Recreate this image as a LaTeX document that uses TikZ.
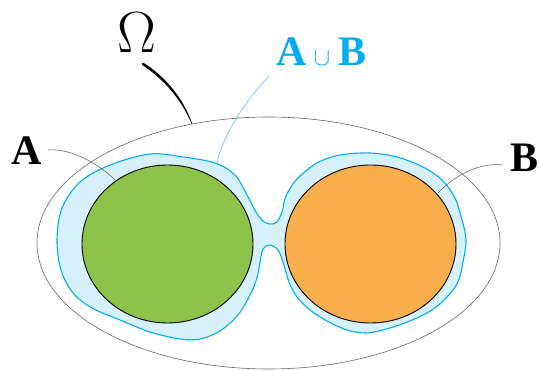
\documentclass[tikz,border=0pt]{standalone}
\usepackage{fontspec}
\setmainfont{Liberation Serif}
\newfontfamily\lmroman{Latin Modern Roman}
\usetikzlibrary{shapes.geometric}
\begin{document}
\begin{tikzpicture}[x=1pt,y=-1pt,
  setA/.style={draw=black,line width=0.9pt,fill=greenA},
  setB/.style={draw=black,line width=0.9pt,fill=orangeB},
  leader/.style={line width=0.6pt,draw=gray!85!black},
  bigletter/.style={inner sep=0pt,font=\fontsize{42}{42}\selectfont\bfseries}]
\definecolor{greenA}{HTML}{8CC34A}
\definecolor{orangeB}{HTML}{F9AE4C}
\definecolor{unionfill}{HTML}{D6F1FA}
\definecolor{unioncyan}{HTML}{00AEEF}
\useasboundingbox (0,0) rectangle (539,371);

% universe
\draw[line width=0.6pt,draw=gray!80!black] (268.5,243) ellipse [x radius=231.5, y radius=126];

% union region
\filldraw[fill=unionfill,draw=unioncyan,line width=1.1pt]
  plot[smooth cycle,tension=0.55] coordinates {
  (57,240) (62,208) (80,182) (110,165) (150,154) (183,157) (215,163)
  (235,175) (247,195) (256,212) (263,221) (270,224) (277,222) (282,212)
  (286,196) (297,179) (317,163) (340,155) (370,153) (397,157) (423,167)
  (442,180) (455,198) (462,220) (466,240) (463,262) (458,282) (447,297)
  (432,310) (410,321) (383,330) (365,333) (347,330) (327,321) (310,310)
  (297,297) (289,282) (283,262) (278,250) (270,245) (263,249) (260,262)
  (257,278) (250,295) (238,315) (220,331) (200,339) (180,339) (150,332)
  (120,320) (92,308) (73,293) (61,270)};

% the two sets
\node[setA,ellipse,minimum width=171pt,minimum height=158pt,inner sep=0pt] (setA) at (167.5,244) {};
\node[setB,ellipse,minimum width=171pt,minimum height=158pt,inner sep=0pt] (setB) at (370.5,244) {};

% labels
\node[anchor=base,inner sep=0pt,font=\fontsize{58}{58}\selectfont\lmroman] (omega) at (137,53) {Ω};
\node[bigletter,anchor=base] (labA) at (26.5,165) {A};
\node[bigletter,anchor=base] (labB) at (525,172) {B};
\node[bigletter,anchor=base west,text=unioncyan] (labU) at (276,66)
  {A\hspace{7pt}{\fontsize{24}{24}\selectfont$\cup$}\hspace{8pt}B};

% leader ends
\coordinate (omegaEnd) at (192,124);
\coordinate (aEnd) at (115,180);
\coordinate (bEnd) at (438,193);
\coordinate (uEnd) at (217,163);
\coordinate (omegaStart) at (143,64);
\coordinate (aStart) at (48,150);
\coordinate (bStart) at (503,165);
\coordinate (uStart) at (269,76);

% leaders; the one from Omega tapers towards the ellipse
\fill[black] ([shift={(0.7,-1.1)}]omegaStart) .. controls (166,77) and (184,99.5) .. ([shift={(0.3,0)}]omegaEnd)
  -- ([shift={(-0.3,0)}]omegaEnd) .. controls (182,100.5) and (164,79) .. ([shift={(-0.7,1.1)}]omegaStart)
  arc[start angle=237, end angle=57, radius=1.3pt] -- cycle;
\draw[leader] (aStart) .. controls (72,148) and (100,165) .. (aEnd);
\draw[leader] (bStart) .. controls (480,162) and (455,175) .. (bEnd);
\draw[line width=0.6pt,draw=unioncyan!70] (uStart) .. controls (242,105) and (222,138) .. (uEnd);
\end{tikzpicture}
\end{document}
